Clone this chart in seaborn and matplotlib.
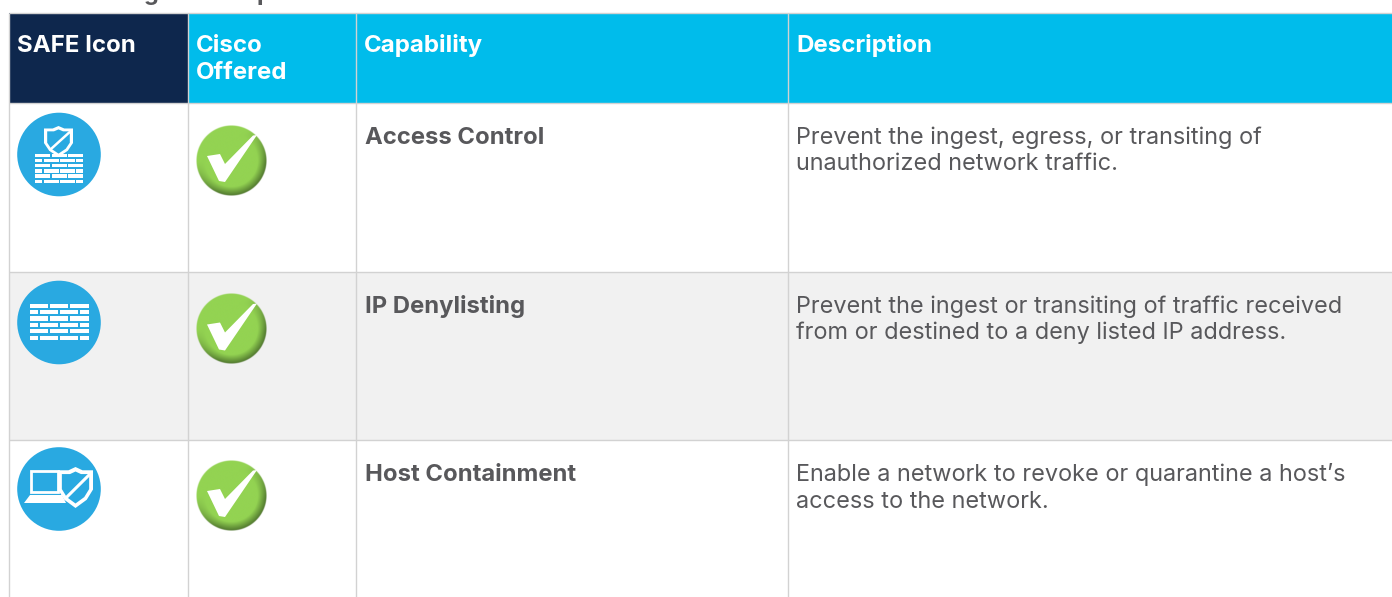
import numpy as np
import seaborn as sns
import matplotlib.pyplot as plt
from matplotlib.patches import Circle, Polygon, Rectangle

sns.set_theme(style="white")
plt.rcParams["font.family"] = ["Inter", "Open Sans", "DejaVu Sans"]

headers = ["SAFE Icon", "Cisco\nOffered", "Capability", "Description"]
capabilities = ["Access Control", "IP Denylisting", "Host Containment"]
descriptions = [
    "Prevent the ingest, egress, or transiting of\nunauthorized network traffic.",
    "Prevent the ingest or transiting of traffic received\nfrom or destined to a deny listed IP address.",
    "Enable a network to revoke or quarantine a host\u2019s\naccess to the network.",
]
col_edges = [9.2, 188.2, 356.2, 788.2, 1392]
row_edges = [12.8, 103.3, 272.3, 440.3, 597]
row_colors = ["white", "#f1f1f1", "white"]
header_colors = ["#0e274d", "#00bceb", "#00bceb", "#00bceb"]

GRID = "#d2d2d2"
TEXT = "#58585b"
BLUE = "#29a9e1"

fig = plt.figure(figsize=(13.92, 5.97), dpi=100)
ax = fig.add_axes([0, 0, 1, 1])
ax.set_xlim(0, 1392)
ax.set_ylim(597, 0)
ax.axis("off")


def wall(cx, top, width, rows=6, h=4.0, gap=6.3):
    # rows of white bricks, every other row shifted
    left = cx - width / 2
    for r in range(rows):
        y = top + r * gap
        if r % 2 == 0:
            starts = [0, 0.35, 0.69]
            sizes = [0.31, 0.31, 0.31]
        else:
            starts = [0, 0.18, 0.52, 0.86]
            sizes = [0.14, 0.31, 0.31, 0.14]
        for s, w in zip(starts, sizes):
            ax.add_patch(Rectangle((left + s * width, y), w * width, h, color="white", lw=0, zorder=4))


def shield(cx, cy, w, h, face, slash=1.8):
    pts = [(-0.5, -0.42), (-0.2, -0.42), (0, -0.5), (0.2, -0.42), (0.5, -0.42),
           (0.5, 0.05), (0.32, 0.3), (0, 0.5), (-0.32, 0.3), (-0.5, 0.05)]
    outer = [(cx + x * w, cy + y * h) for x, y in pts]
    inner = [(cx + x * w * 0.78, cy + y * h * 0.78) for x, y in pts]
    ax.add_patch(Polygon(outer, color="white", lw=0, zorder=4))
    ax.add_patch(Polygon(inner, color=face, lw=0, zorder=5))
    ax.plot([cx - w * 0.28, cx + w * 0.38], [cy + h * 0.26, cy - h * 0.3], color="white", lw=slash, zorder=6)


def check_badge(cx, cy, r=35.3):
    # green ball: dark rim fading into the lighter face
    n = 200
    xs, ys = np.meshgrid(np.linspace(-1, 1, n), np.linspace(-1, 1, n))
    dist = np.hypot(xs, ys)
    rim = np.clip((dist - 0.74) / 0.26, 0, 1) * np.clip(ys * 0.8 + xs * 0.5 + 0.45, 0, 1)
    light = np.array([147, 211, 82]) / 255
    dark = np.array([78, 116, 45]) / 255
    img = light + (dark - light) * rim[..., None]
    alpha = np.clip((1 - dist) * n / 4, 0, 1)
    rgba = np.dstack([img, alpha])
    ax.imshow(rgba, extent=[cx - r, cx + r, cy + r, cy - r], zorder=4, interpolation="bilinear", aspect="auto")
    tick = [(-24, -4.5), (-11, -6.5), (-6, 3.5), (22, -25), (26, -25.5), (-6, 21.5), (-12, 20.5)]
    ax.add_patch(Polygon([(cx + x, cy + y) for x, y in tick], color="white", lw=0, zorder=5))


# descenders of the cropped heading above the table
ax.text(151, 0, "g", color=TEXT, fontsize=17, fontweight="bold", ha="center", va="baseline", zorder=3)
ax.text(264, 0, "p", color=TEXT, fontsize=17, fontweight="bold", ha="center", va="baseline", zorder=3)

# cell fills
for i, color in enumerate(header_colors):
    ax.add_patch(Rectangle((col_edges[i], row_edges[0]), col_edges[i + 1] - col_edges[i],
                           row_edges[1] - row_edges[0], color=color, lw=0, zorder=1))
for i, color in enumerate(row_colors):
    ax.add_patch(Rectangle((col_edges[0], row_edges[i + 1]), col_edges[-1] - col_edges[0],
                           row_edges[i + 2] - row_edges[i + 1], color=color, lw=0, zorder=1))

# grid lines
ax.vlines(col_edges[:-1], row_edges[0], 597, color=GRID, lw=1, zorder=2)
ax.hlines(row_edges[:-1], col_edges[0], 1392, color=GRID, lw=1, zorder=2)

# header text, one text per line so the line pitch stays exact
for i, label in enumerate(headers):
    for k, line in enumerate(label.split("\n")):
        ax.text(col_edges[i] + 8, 52 + k * 27, line, color="white", fontsize=17.3, fontweight="bold",
                va="baseline", zorder=3)

# rows
for i in range(3):
    top = row_edges[i + 1]
    ax.text(364.8, top + 41, capabilities[i], color=TEXT, fontsize=17.15, fontweight="bold",
            va="baseline", zorder=3)
    for k, line in enumerate(descriptions[i].split("\n")):
        ax.text(796, top + 40.5 + k * 26.7, line, color=TEXT, fontsize=16.9, va="baseline", zorder=3)
    check_badge(231, [160.5, 329, 495.5][i])

icon_y = [154.5, 322.5, 489]
for y in icon_y:
    ax.add_patch(Circle((59, y), 41.8, color=BLUE, lw=0, zorder=3))

# firewall + shield
wall(59, 153.5, 48, rows=6, h=3.6, gap=5.2)
shield(58.5, 141.5, 29, 31, BLUE)
# firewall only
wall(59, 303.5, 59, rows=6, h=4.2, gap=6.4)
# laptop + shield
ax.add_patch(Rectangle((31, 471), 27, 21, facecolor="none", edgecolor="white", lw=2, zorder=4))
ax.add_patch(Polygon([(24, 503), (30, 495), (62, 495), (66, 503)], color="white", lw=0, zorder=4))
shield(75.5, 487.5, 35, 41, BLUE, slash=2.2)

fig.savefig("out.png", dpi=100)
